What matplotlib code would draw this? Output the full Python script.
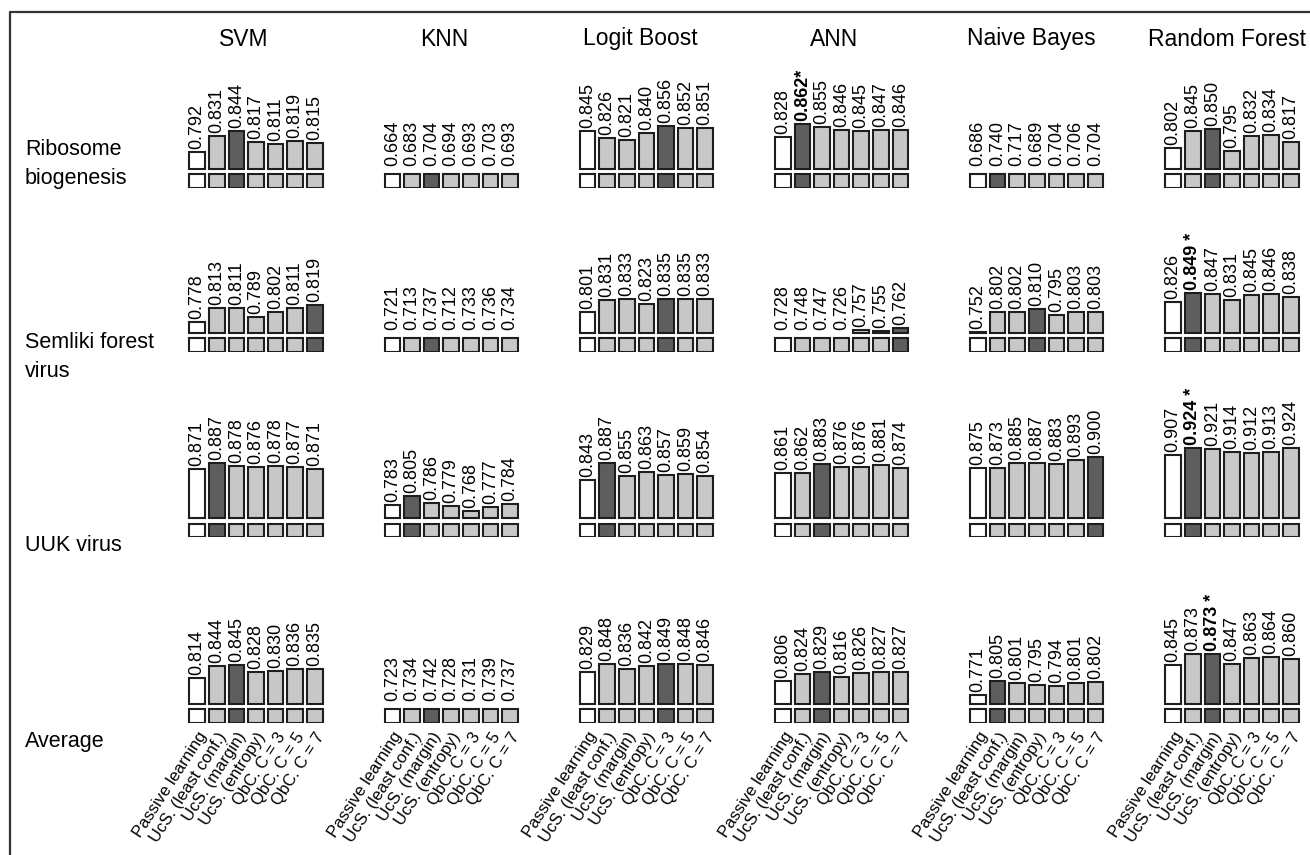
import matplotlib
matplotlib.use("Agg")
import matplotlib.pyplot as plt
from matplotlib.lines import Line2D

plt.rcParams['font.family'] = ['Liberation Sans', 'DejaVu Sans']

# ---------------------------------------------------------------- data
classifiers = ["SVM", "KNN", "Logit Boost", "ANN", "Naive Bayes", "Random Forest"]
datasets = ["Ribosome\nbiogenesis", "Semliki forest\nvirus", "UUK virus", "Average"]
strategies = ["Passive learning", "UcS. (least conf.)", "UcS. (margin)",
              "UcS. (entropy)", "QbC. C = 3", "QbC. C = 5", "QbC. C = 7"]

# AUC per classifier (rows) and strategy (columns)
ribosome = [
    [0.792, 0.831, 0.844, 0.817, 0.811, 0.819, 0.815],
    [0.664, 0.683, 0.704, 0.694, 0.693, 0.703, 0.693],
    [0.845, 0.826, 0.821, 0.840, 0.856, 0.852, 0.851],
    [0.828, 0.862, 0.855, 0.846, 0.845, 0.847, 0.846],
    [0.686, 0.740, 0.717, 0.689, 0.704, 0.706, 0.704],
    [0.802, 0.845, 0.850, 0.795, 0.832, 0.834, 0.817],
]
semliki = [
    [0.778, 0.813, 0.811, 0.789, 0.802, 0.811, 0.819],
    [0.721, 0.713, 0.737, 0.712, 0.733, 0.736, 0.734],
    [0.801, 0.831, 0.833, 0.823, 0.835, 0.835, 0.833],
    [0.728, 0.748, 0.747, 0.726, 0.757, 0.755, 0.762],
    [0.752, 0.802, 0.802, 0.810, 0.795, 0.803, 0.803],
    [0.826, 0.849, 0.847, 0.831, 0.845, 0.846, 0.838],
]
uuk = [
    [0.871, 0.887, 0.878, 0.876, 0.878, 0.877, 0.871],
    [0.783, 0.805, 0.786, 0.779, 0.768, 0.777, 0.784],
    [0.843, 0.887, 0.855, 0.863, 0.857, 0.859, 0.854],
    [0.861, 0.862, 0.883, 0.876, 0.876, 0.881, 0.874],
    [0.875, 0.873, 0.885, 0.887, 0.883, 0.893, 0.900],
    [0.907, 0.924, 0.921, 0.914, 0.912, 0.913, 0.924],
]
average = [
    [0.814, 0.844, 0.845, 0.828, 0.830, 0.836, 0.835],
    [0.723, 0.734, 0.742, 0.728, 0.731, 0.739, 0.737],
    [0.829, 0.848, 0.836, 0.842, 0.849, 0.848, 0.846],
    [0.806, 0.824, 0.829, 0.816, 0.826, 0.827, 0.827],
    [0.771, 0.805, 0.801, 0.795, 0.794, 0.801, 0.802],
    [0.845, 0.873, 0.873, 0.847, 0.863, 0.864, 0.860],
]

# best active-learning strategy per classifier (index into strategies)
best_ribosome = [2, 2, 4, 1, 1, 2]
best_semliki = [6, 2, 4, 6, 3, 1]
best_uuk = [1, 1, 1, 2, 6, 1]
best_average = [2, 2, 4, 2, 1, 2]

# overall winner per dataset: (classifier, strategy, label suffix)
winner_ribosome = (3, 1, "*")
winner_semliki = (5, 1, " *")
winner_uuk = (5, 1, " *")
winner_average = (5, 2, " *")

tables = [ribosome, semliki, uuk, average]
bests = [best_ribosome, best_semliki, best_uuk, best_average]
winners = [winner_ribosome, winner_semliki, winner_uuk, winner_average]

# ---------------------------------------------------------------- layout
W, H = 1310, 855
fig = plt.figure(figsize=(W / 100, H / 100), dpi=100)

BASE = 0.75            # bars are drawn upwards from this level
SCALE = 404.0          # pixels per AUC unit
GAP = 5.5 / SCALE      # gap between bar and key square
SQ_H = 13.5 / SCALE    # key square height
SQ_BOT = BASE - GAP - SQ_H
PAD = 3.0 / SCALE

PITCH = 19.6
COL_CENTERS = [256 + 195.2 * i for i in range(6)]
TITLE_X = [244, 444, 640, 834, 1031, 1227]
ROW_BOTTOMS = [188, 352, 537, 722.5]
ROW_LABEL_Y = [164, 357, 545, 741]
AX_H = 160

WHITE, LIGHT, DARK, EDGE = "#ffffff", "#c8c8c8", "#5e5e5e", "#1e1e1e"

for r in range(4):
    table, best, (wc, ws, suffix) = tables[r], bests[r], winners[r]
    for c in range(6):
        vals = table[c]
        left = COL_CENTERS[c] - 3.5 * PITCH
        ax = fig.add_axes([left / W, 1 - ROW_BOTTOMS[r] / H,
                           7 * PITCH / W, AX_H / H])
        ax.set_xlim(-0.5, 6.5)
        ax.set_ylim(SQ_BOT, SQ_BOT + AX_H / SCALE)
        for s in ax.spines.values():
            s.set_visible(False)
        ax.set_yticks([])

        colors = [WHITE] + [LIGHT] * 6
        colors[best[c]] = DARK
        xs = list(range(7))

        shown = [i for i in xs if vals[i] > BASE]
        ax.bar(shown, [vals[i] - BASE for i in shown], bottom=BASE, width=0.8,
               color=[colors[i] for i in shown], edgecolor=EDGE, linewidth=1.5)
        ax.bar(xs, SQ_H, bottom=SQ_BOT, width=0.8, color=colors,
               edgecolor=EDGE, linewidth=1.5)

        for i, v in enumerate(vals):
            label = f"{v:.3f}"
            weight = "normal"
            if c == wc and i == ws:
                label += suffix
                weight = "bold"
            ax.text(i, max(v, BASE) + PAD, label, rotation=90, ha="center",
                    va="bottom", fontsize=13, fontweight=weight)

        if r == 3:
            ax.set_xticks(xs)
            ax.set_xticklabels(strategies, rotation=57, ha="right", va="top",
                               rotation_mode="anchor", fontsize=12)
            ax.tick_params(axis="x", length=0, pad=5)
        else:
            ax.set_xticks([])

for c, name in enumerate(classifiers):
    fig.text(TITLE_X[c] / W, 1 - 39 / H, name, ha="center",
             va="center", fontsize=16.5)

for r, name in enumerate(datasets):
    fig.text(25 / W, 1 - ROW_LABEL_Y[r] / H, name, ha="left", va="center",
             fontsize=15.5, linespacing=1.5)

# frame on the left and top
fig.add_artist(Line2D([10 / W, 10 / W, 1], [0, 1 - 12 / H, 1 - 12 / H],
                      transform=fig.transFigure, color="#333333", lw=1.6))

fig.savefig("out.png", dpi=100)
